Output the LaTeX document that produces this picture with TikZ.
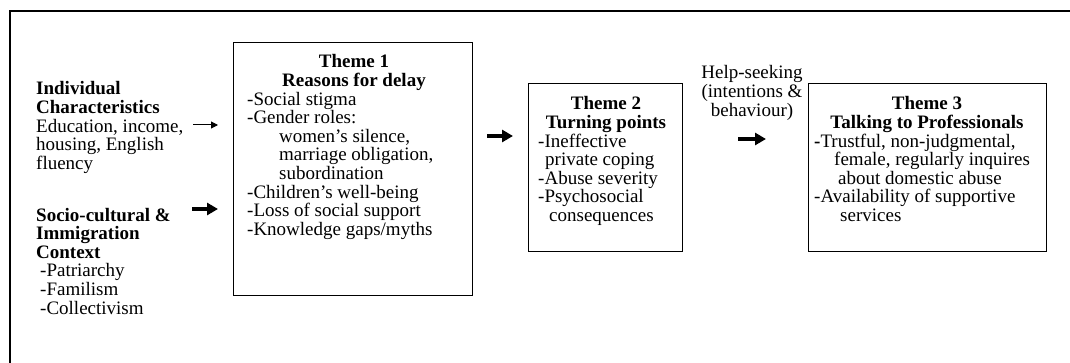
\documentclass[tikz,border=0pt]{standalone}
\usepackage{fontspec}
\setmainfont{Liberation Serif}
\usetikzlibrary{arrows.meta,positioning}

\tikzset{
  themebox/.style={draw, line width=0.9pt, inner sep=0pt},
  bodytxt/.style={inner sep=0pt, align=left, font=\fontsize{19}{18.6}\selectfont},
  headtxt/.style={inner sep=0pt, align=center, font=\bfseries\fontsize{19}{18.6}\selectfont},
  thinarrow/.style={-{Triangle[length=7pt,width=7pt]}, line width=1pt},
  fatarrow/.style={-{Triangle[length=11pt,width=12pt]}, line width=4pt},
}

\begin{document}
\begin{tikzpicture}[x=1pt,y=-1pt]
\useasboundingbox (0,0) rectangle (1070,363);
% outer frame (only top and left edges show)
\draw[line width=1.2pt] (10,363) -- (10,11) -- (1070,11);

% left column (nodes sit on the baseline of their last line)
\node[bodytxt, anchor=base west] (indiv) at (36,169.4)
  {\textbf{Individual}\\\textbf{Characteristics}\\Education, income,\\housing, English\\fluency};
\node[bodytxt, anchor=base west] (socio) at (36,314)
  {\textbf{Socio-cultural \&}\\\textbf{Immigration}\\\textbf{Context}\\
   \hspace*{4pt}-Patriarchy\\\hspace*{4pt}-Familism\\\hspace*{4pt}-Collectivism};

% theme boxes
\node[themebox, minimum width=239pt, minimum height=253pt, anchor=north west] (t1) at (233,42) {};
\node[themebox, minimum width=154pt, minimum height=168pt, anchor=north west] (t2) at (528,83) {};
\node[themebox, minimum width=238pt, minimum height=168pt, anchor=north west] (t3) at (808,83) {};

% theme 1
\node[headtxt, anchor=base] (t1head) at (354,86.6) {Theme 1\\Reasons for delay};
\node[bodytxt, anchor=base west] (t1list) at (247,235.4)
  {-Social stigma\\-Gender roles:\\
   \hspace*{32pt}women’s silence,\\\hspace*{32pt}marriage obligation,\\\hspace*{32pt}subordination\\
   -Children’s well-being\\-Loss of social support\\-Knowledge gaps/myths};

% theme 2
\node[headtxt, anchor=base] (t2head) at (606,128.6) {Theme 2\\Turning points};
\node[bodytxt, anchor=base west] (t2list) at (538,221.6)
  {-Ineffective\\\hspace*{7pt}private coping\\-Abuse severity\\-Psychosocial\\\hspace*{11pt}consequences};

% help-seeking label
\node[bodytxt, align=center, anchor=base] (help) at (752,116.2)
  {Help-seeking\\(intentions \&\\behaviour)};

% theme 3
\node[headtxt, anchor=base] (t3head) at (927,128.6) {Theme 3\\Talking to Professionals};
\node[bodytxt, anchor=base west] (t3list) at (814,221.6)
  {\textbf{-}Trustful, non-judgmental,\\\hspace*{20pt}female, regularly inquires\\
   \hspace*{24pt}about domestic abuse\\-Availability of supportive\\\hspace*{26pt}services};

% arrows
\coordinate (indivA) at (193,125);  \coordinate (indivB) at (218,125);
\coordinate (socioA) at (192,209);  \coordinate (socioB) at (218,209);
\coordinate (oneA) at (487,136);    \coordinate (oneB) at (513,136);
\coordinate (twoA) at (738,139);    \coordinate (twoB) at (766,139);
\draw[thinarrow] (indivA) -- (indivB);
\draw[fatarrow] (socioA) -- (socioB);
\draw[fatarrow] (oneA) -- (oneB);
\draw[fatarrow] (twoA) -- (twoB);
\end{tikzpicture}
\end{document}
